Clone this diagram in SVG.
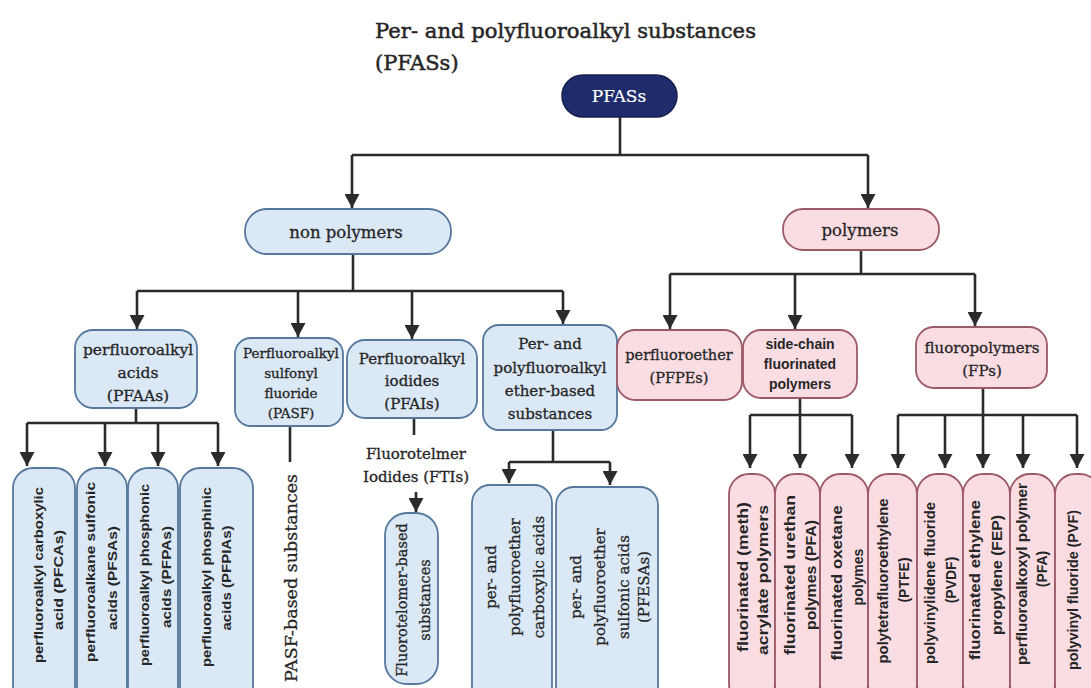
<svg xmlns="http://www.w3.org/2000/svg" width="1091" height="688" viewBox="0 0 1091 688">
<defs>
<marker id="ah" markerUnits="userSpaceOnUse" markerWidth="15" markerHeight="15" refX="14" refY="7.5" orient="auto">
<path d="M0,0 L14,7.5 L0,15 z" fill="#2b2b2b"/>
</marker>
<style>
.ser{font-family:"DejaVu Serif","Liberation Serif",serif;fill:#262626;stroke:#262626;stroke-width:0.3;text-anchor:middle}
.sans{font-family:"Liberation Sans",Arial,sans-serif;font-weight:bold;fill:#262626;text-anchor:middle;font-size:13.5px}
.pk{font-size:14px}
.blue{fill:#dbe8f6;stroke:#56789c;stroke-width:1.8}
.pink{fill:#fadde3;stroke:#9c5a66;stroke-width:1.8}
.ln{fill:none;stroke:#2b2b2b;stroke-width:2.6}
.ar{fill:none;stroke:#2b2b2b;stroke-width:2.6;marker-end:url(#ah)}
</style>
</defs>
<rect width="1091" height="688" fill="#ffffff"/>
<g id="title">
<text class="ser" x="375" y="38" font-size="21" textLength="381" lengthAdjust="spacingAndGlyphs" style="text-anchor:start;stroke-width:0.5">Per- and polyfluoroalkyl substances</text>
<text class="ser" x="375" y="70" font-size="21" style="text-anchor:start;stroke-width:0.5">(PFASs)</text>
</g>
<g id="connectors">
<path class="ln" d="M620,117 V155 M352,155 H868"/>
<path class="ar" d="M352,155 V208"/>
<path class="ar" d="M868,155 V208"/>
<path class="ln" d="M353,254 V291 M137,291 H563"/>
<path class="ar" d="M137,291 V329"/>
<path class="ar" d="M298,291 V337"/>
<path class="ar" d="M412,291 V339"/>
<path class="ar" d="M563,291 V324"/>
<path class="ln" d="M861,250 V274 M670,274 H975"/>
<path class="ar" d="M670,274 V329"/>
<path class="ar" d="M795,274 V329"/>
<path class="ar" d="M975,274 V326"/>
<path class="ln" d="M136,408 V423 M27,423 H218"/>
<path class="ar" d="M27,423 V466"/>
<path class="ar" d="M105,423 V466"/>
<path class="ar" d="M158,423 V466"/>
<path class="ar" d="M218,423 V466"/>
<path class="ln" d="M290,426 V462"/>
<path class="ln" d="M414,418 V435"/>
<path class="ar" d="M416,492 V512"/>
<path class="ln" d="M553,430 V462 M509,462 H610"/>
<path class="ar" d="M509,462 V483"/>
<path class="ar" d="M610,462 V485"/>
<path class="ln" d="M800,398 V415 M750,415 H852"/>
<path class="ar" d="M750,415 V468"/>
<path class="ar" d="M800,415 V468"/>
<path class="ar" d="M852,415 V468"/>
<path class="ln" d="M983,388 V415 M898,415 H1077"/>
<path class="ar" d="M898,415 V468"/>
<path class="ar" d="M945,415 V468"/>
<path class="ar" d="M983,415 V468"/>
<path class="ar" d="M1023,415 V468"/>
<path class="ar" d="M1077,415 V468"/>
</g>
<g id="pfass">
<rect x="562" y="75" width="115" height="42" rx="21" fill="#1f2c6b" stroke="#16204f" stroke-width="1.5"/>
<text class="ser" x="619" y="102" font-size="17" style="fill:#ffffff;stroke:#ffffff;stroke-width:0.2">PFASs</text>
</g>
<g id="nonpolymers">
<rect class="blue" x="245" y="209" width="206" height="45" rx="22"/>
<text class="ser" x="346" y="238" font-size="16.5">non polymers</text>
</g>
<g id="polymers">
<rect class="pink" x="783" y="209" width="156" height="41" rx="20"/>
<text class="ser" x="860" y="236" font-size="16.5">polymers</text>
</g>
<g id="pfaas">
<rect class="blue" x="75" y="330" width="122" height="78" rx="18"/>
<text class="ser" x="138" y="355" font-size="15.5">perfluoroalkyl</text>
<text class="ser" x="138" y="378" font-size="15.5">acids</text>
<text class="ser" x="138" y="401" font-size="15.5">(PFAAs)</text>
</g>
<g id="pasf">
<rect class="blue" x="235" y="338" width="108" height="88" rx="16"/>
<text class="ser" x="291" y="358" font-size="13.5">Perfluoroalkyl</text>
<text class="ser" x="291" y="378" font-size="13.5">sulfonyl</text>
<text class="ser" x="291" y="398" font-size="13.5">fluoride</text>
<text class="ser" x="291" y="418" font-size="13.5">(PASF)</text>
</g>
<g id="pfais">
<rect class="blue" x="347" y="340" width="130" height="78" rx="18"/>
<text class="ser" x="412" y="364" font-size="15">Perfluoroalkyl</text>
<text class="ser" x="412" y="386" font-size="15">iodides</text>
<text class="ser" x="412" y="409" font-size="15">(PFAIs)</text>
</g>
<g id="ether">
<rect class="blue" x="483" y="325" width="134" height="105" rx="16"/>
<text class="ser" x="550" y="349" font-size="15">Per- and</text>
<text class="ser" x="550" y="373" font-size="15">polyfluoroalkyl</text>
<text class="ser" x="550" y="396" font-size="15">ether-based</text>
<text class="ser" x="550" y="419" font-size="15">substances</text>
</g>
<g id="perfluoroether">
<rect class="pink" x="617" y="330" width="125" height="70" rx="18"/>
<text class="ser" x="679" y="360" font-size="14.5">perfluoroether</text>
<text class="ser" x="679" y="383" font-size="14.5">(PFPEs)</text>
</g>
<g id="sidechain">
<rect class="pink" x="743" y="330" width="114" height="68" rx="18"/>
<text class="sans" x="800" y="349" style="font-size:14px">side-chain</text>
<text class="sans" x="800" y="369" style="font-size:14px">fluorinated</text>
<text class="sans" x="800" y="389" style="font-size:14px">polymers</text>
</g>
<g id="fluoropolymers">
<rect class="pink" x="916" y="327" width="131" height="61" rx="18"/>
<text class="ser" x="982" y="353" font-size="15">fluoropolymers</text>
<text class="ser" x="982" y="376" font-size="15">(FPs)</text>
</g>
<g id="pasf-based">
<text class="ser" transform="translate(297,578) rotate(-90)" font-size="17.5">PASF-based substances</text>
</g>
<g id="ftis">
<text class="ser" x="416" y="459" font-size="15">Fluorotelmer</text>
<text class="ser" x="416" y="482" font-size="15">Iodides (FTIs)</text>
</g>
<g id="pfcas">
<rect class="blue" x="13" y="468" width="62" height="240" rx="20"/>
<text class="sans" transform="translate(43,575) rotate(-90)" textLength="176" lengthAdjust="spacingAndGlyphs">perfluoroalkyl carboxylic</text>
<text class="sans" transform="translate(63,580) rotate(-90)" textLength="100" lengthAdjust="spacingAndGlyphs">acid (PFCAs)</text>
</g>
<g id="pfsas">
<rect class="blue" x="77" y="468" width="50" height="240" rx="20"/>
<text class="sans" transform="translate(95,572) rotate(-90)" textLength="180" lengthAdjust="spacingAndGlyphs">perfluoroalkane sulfonic</text>
<text class="sans" transform="translate(117,578) rotate(-90)" textLength="104" lengthAdjust="spacingAndGlyphs">acids (PFSAs)</text>
</g>
<g id="pfpas">
<rect class="blue" x="128" y="468" width="50" height="240" rx="20"/>
<text class="sans" transform="translate(149,575) rotate(-90)" textLength="182" lengthAdjust="spacingAndGlyphs">perfluoroalkyl phosphonic</text>
<text class="sans" transform="translate(171,577) rotate(-90)" textLength="102" lengthAdjust="spacingAndGlyphs">acids (PFPAs)</text>
</g>
<g id="pfpias">
<rect class="blue" x="180" y="468" width="73" height="240" rx="20"/>
<text class="sans" transform="translate(211,577) rotate(-90)" textLength="180" lengthAdjust="spacingAndGlyphs">perfluoroalkyl phosphinic</text>
<text class="sans" transform="translate(231,578) rotate(-90)" textLength="105" lengthAdjust="spacingAndGlyphs">acids (PFPIAs)</text>
</g>
<g id="ftbased">
<rect class="blue" x="385" y="513" width="53" height="171" rx="22"/>
<g transform="translate(414,600) rotate(-90)">
<text class="ser" x="0" y="-7" font-size="14.5">Fluorotelomer-based</text>
<text class="ser" x="0" y="16" font-size="14.5">substances</text>
</g>
</g>
<g id="pfecas">
<rect class="blue" x="472" y="485" width="80" height="220" rx="18"/>
<g transform="translate(516,577) rotate(-90)">
<text class="ser" x="0" y="-20" font-size="15">per- and</text>
<text class="ser" x="0" y="4" font-size="15">polyfluoroether</text>
<text class="ser" x="0" y="28" font-size="15">carboxylic acids</text>
</g>
</g>
<g id="pfesas">
<rect class="blue" x="556" y="487" width="102" height="220" rx="18"/>
<g transform="translate(609,587) rotate(-90)">
<text class="ser" x="0" y="-28" font-size="15">per- and</text>
<text class="ser" x="0" y="-4" font-size="15">polyfluoroether</text>
<text class="ser" x="0" y="20" font-size="15">sulfonic acids</text>
<text class="ser" x="0" y="40" font-size="15">(PFESAs)</text>
</g>
</g>
<g id="meth">
<rect class="pink" x="729" y="474" width="46" height="230" rx="20"/>
<text class="sans pk" transform="translate(748,577) rotate(-90)" textLength="150" lengthAdjust="spacingAndGlyphs">fluorinated (meth)</text>
<text class="sans pk" transform="translate(768,580) rotate(-90)" textLength="150" lengthAdjust="spacingAndGlyphs">acrylate polymers</text>
</g>
<g id="urethan">
<rect class="pink" x="775" y="474" width="45" height="230" rx="20"/>
<text class="sans pk" transform="translate(795,575) rotate(-90)" textLength="160" lengthAdjust="spacingAndGlyphs">fluorinated urethan</text>
<text class="sans pk" transform="translate(816,575) rotate(-90)" textLength="110" lengthAdjust="spacingAndGlyphs">polymes (PFA)</text>
</g>
<g id="oxetane">
<rect class="pink" x="820" y="474" width="48" height="230" rx="20"/>
<text class="sans pk" transform="translate(842,583) rotate(-90)" textLength="155" lengthAdjust="spacingAndGlyphs">fluorinated oxetane</text>
<text class="sans pk" transform="translate(863,577) rotate(-90)">polymes</text>
</g>
<g id="ptfe">
<rect class="pink" x="868" y="474" width="49" height="230" rx="20"/>
<text class="sans pk" transform="translate(888,581) rotate(-90)" textLength="165" lengthAdjust="spacingAndGlyphs">polytetrafluoroethylene</text>
<text class="sans pk" transform="translate(909,580) rotate(-90)">(PTFE)</text>
</g>
<g id="pvdf">
<rect class="pink" x="917" y="474" width="46" height="230" rx="20"/>
<text class="sans pk" transform="translate(935,583) rotate(-90)" textLength="162" lengthAdjust="spacingAndGlyphs">polyvinylidene fluoride</text>
<text class="sans pk" transform="translate(956,580) rotate(-90)">(PVDF)</text>
</g>
<g id="fep">
<rect class="pink" x="963" y="474" width="47" height="230" rx="20"/>
<text class="sans pk" transform="translate(980,580) rotate(-90)" textLength="160" lengthAdjust="spacingAndGlyphs">fluorinated ethylene</text>
<text class="sans pk" transform="translate(1002,575) rotate(-90)" textLength="120" lengthAdjust="spacingAndGlyphs">propylene (FEP)</text>
</g>
<g id="pfa">
<rect class="pink" x="1010" y="474" width="45" height="230" rx="20"/>
<text class="sans pk" transform="translate(1027,574) rotate(-90)" textLength="182" lengthAdjust="spacingAndGlyphs">perfluoroalkoxyl polymer</text>
<text class="sans pk" transform="translate(1047,569) rotate(-90)">(PFA)</text>
</g>
<g id="pvf">
<rect class="pink" x="1055" y="474" width="45" height="230" rx="20"/>
<text class="sans pk" transform="translate(1078,590) rotate(-90)" textLength="160" lengthAdjust="spacingAndGlyphs">polyvinyl fluoride (PVF)</text>
</g>
</svg>
